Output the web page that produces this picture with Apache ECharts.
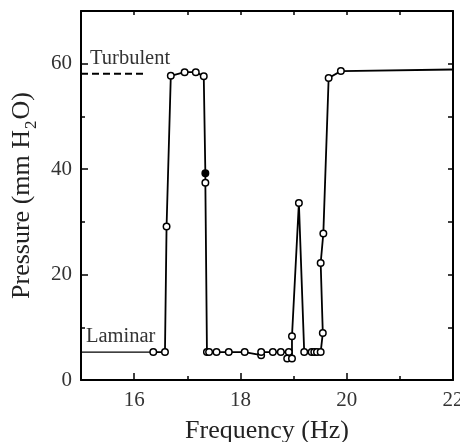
<!DOCTYPE html>
<html>
<head>
<meta charset="utf-8">
<script src="https://cdn.jsdelivr.net/npm/echarts@6/dist/echarts.min.js"></script>
<style>html,body{margin:0;padding:0;background:#fff}#c{width:460px;height:442px}</style>
</head>
<body>
<div id="c"></div>
<script>
// Measured sweep (Hz, mm H2O)
const freq = [16.36,16.58,16.61,16.69,16.95,17.16,17.31,17.34,17.34,17.37,17.41,17.55,17.78,18.08,18.39,18.39,18.61,18.76,18.91,18.88,18.97,18.97,19.10,19.20,19.34,19.39,19.44,19.51,19.55,19.51,19.56,19.66,19.89,22.0];
const pressure = [5.3,5.3,29.1,57.7,58.4,58.4,57.6,39.2,37.4,5.3,5.3,5.3,5.3,5.3,4.7,5.3,5.3,5.3,5.3,4.1,4.1,8.3,33.6,5.3,5.3,5.3,5.3,5.3,8.9,22.2,27.8,57.3,58.6,58.9];
const filledIdx = [7];
const noMarkerIdx = [33];
// reference levels
const turbulentX = [15, 16.24];
const turbulentY = [58.1, 58.1];
const laminarX = [15, 16.3];
const laminarY = [5.3, 5.3];
// ticks
const xMajor = [16, 18, 20, 22];
const xMinor = [17, 19, 21];
const yMajor = [0, 20, 40, 60];
const yMinor = [10, 30, 50];

const FONT = "'Liberation Serif','Times New Roman',serif";
const chart = echarts.init(document.getElementById('c'), null, {renderer: 'canvas'});

const mainData = freq.map((x, i) => {
  const d = {value: [x, pressure[i]]};
  if (filledIdx.includes(i)) d.itemStyle = {color: '#000', borderColor: '#000'};
  if (noMarkerIdx.includes(i)) d.symbol = 'none';
  return d;
});

function baseX(extra) {
  return Object.assign({
    type: 'value', min: 15, max: 22, gridIndex: 0,
    splitLine: {show: false},
    axisLine: {show: false},
    axisLabel: {show: false},
    axisTick: {show: false}
  }, extra);
}
function baseY(extra) {
  return Object.assign({
    type: 'value', min: 0, max: 70, gridIndex: 0,
    splitLine: {show: false},
    axisLine: {show: false},
    axisLabel: {show: false},
    axisTick: {show: false}
  }, extra);
}

const option = {
  animation: false,
  backgroundColor: '#fff',
  grid: {left: 81, right: 7, top: 11, bottom: 62, containLabel: false, outerBoundsMode: 'none'},
  xAxis: [
    baseX({
      position: 'bottom',
      axisLine: {show: true, onZero: false, lineStyle: {color: '#000', width: 2}},
      axisTick: {show: true, inside: true, length: 7, customValues: xMajor, lineStyle: {color: '#000', width: 1.5}},
      axisLabel: {show: true, customValues: xMajor, margin: 10, fontSize: 21, color: '#333', fontFamily: FONT},
      name: 'Frequency (Hz)', nameLocation: 'middle', nameGap: 38,
      nameTextStyle: {fontSize: 26, color: '#222', fontFamily: FONT}
    }),
    baseX({
      position: 'bottom',
      axisTick: {show: true, inside: true, length: 4, customValues: xMinor, lineStyle: {color: '#000', width: 1.5}}
    }),
    baseX({
      position: 'top',
      axisLine: {show: true, onZero: false, lineStyle: {color: '#000', width: 2}},
      axisTick: {show: true, inside: true, length: 4, customValues: xMajor.concat(xMinor), lineStyle: {color: '#000', width: 1.5}}
    })
  ],
  yAxis: [
    baseY({
      position: 'left',
      axisLine: {show: true, onZero: false, lineStyle: {color: '#000', width: 2}},
      axisTick: {show: true, inside: true, length: 7, customValues: yMajor, lineStyle: {color: '#000', width: 1.5}},
      axisLabel: {show: true, customValues: yMajor, margin: 9, fontSize: 21, color: '#333', fontFamily: FONT},
      name: '{n|Pressure (mm H}{s|2}{n|O)}', nameLocation: 'middle', nameGap: 40,
      nameTextStyle: {
        color: '#222', fontFamily: FONT,
        rich: {
          n: {fontSize: 26, fontFamily: FONT, color: '#222', verticalAlign: 'bottom', padding: [0, 0, 5, 0]},
          s: {fontSize: 17, fontFamily: FONT, color: '#222', verticalAlign: 'bottom', padding: [0, 1, 0, 1]}
        }
      }
    }),
    baseY({
      position: 'left',
      axisTick: {show: true, inside: true, length: 4, customValues: yMinor, lineStyle: {color: '#000', width: 1.5}}
    }),
    baseY({
      position: 'right',
      axisLine: {show: true, onZero: false, lineStyle: {color: '#000', width: 2}},
      axisTick: {show: true, inside: true, length: 5, customValues: yMajor.concat(yMinor), lineStyle: {color: '#000', width: 1.5}}
    })
  ],
  series: [
    {
      type: 'line', xAxisIndex: 0, yAxisIndex: 0,
      data: turbulentX.map((x, i) => [x, turbulentY[i]]),
      symbol: 'none', lineStyle: {color: '#000', width: 2.2, type: [7, 4]}
    },
    {
      type: 'line', xAxisIndex: 0, yAxisIndex: 0,
      data: laminarX.map((x, i) => [x, laminarY[i]]),
      symbol: 'none', lineStyle: {color: '#000', width: 1.2}
    },
    {
      type: 'line', xAxisIndex: 0, yAxisIndex: 0,
      data: mainData,
      symbol: 'circle', symbolSize: 6.5, showAllSymbol: true,
      lineStyle: {color: '#000', width: 1.8},
      itemStyle: {color: '#fff', borderColor: '#000', borderWidth: 1.5},
      z: 3
    }
  ],
  graphic: [
    {type: 'text', left: 90, top: 48, style: {text: 'Turbulent', fontSize: 20.5, fontFamily: FONT, fill: '#333'}},
    {type: 'text', left: 86, top: 326, style: {text: 'Laminar', fontSize: 20.5, fontFamily: FONT, fill: '#333'}}
  ]
};
chart.setOption(option);
</script>
</body>
</html>
